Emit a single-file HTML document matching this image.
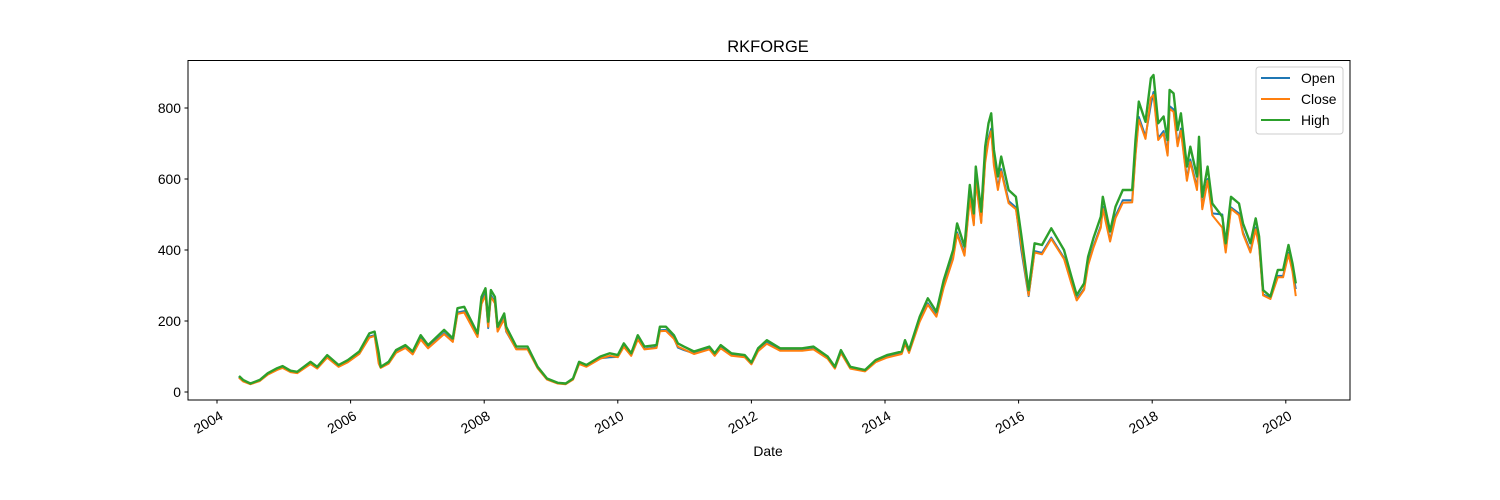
<!DOCTYPE html>
<html><head><meta charset="utf-8"><style>
html,body{margin:0;padding:0;background:#fff;}
svg{display:block;font-family:"Liberation Sans","DejaVu Sans",sans-serif;}
</style></head><body>
<svg id="chart" width="1500" height="500" viewBox="0 0 1500 500">
<rect x="0" y="0" width="1500" height="500" fill="#fff"/>
<text x="768" y="52" text-anchor="middle" font-size="16.5" fill="#000">RKFORGE</text>
<g id="series" clip-path="url(#clip)"></g>
<defs><clipPath id="clip"><rect x="188" y="60" width="1162" height="340"/></clipPath></defs>
<rect x="188" y="60.5" width="1162" height="339.5" fill="none" stroke="#000" stroke-width="1"/>
<g id="axes"></g>
<text x="768" y="456" text-anchor="middle" font-size="13.9" fill="#000">Date</text>
<g>
<rect x="1256" y="67" width="87" height="67" rx="3" fill="#fff" fill-opacity="0.8" stroke="#ccc"/>
<line x1="1261" x2="1290" y1="78" y2="78" stroke="#1f77b4" stroke-width="2"/>
<text x="1301" y="83" font-size="13.9">Open</text>
<line x1="1261" x2="1290" y1="99" y2="99" stroke="#ff7f0e" stroke-width="2"/>
<text x="1301" y="104" font-size="13.9">Close</text>
<line x1="1261" x2="1290" y1="120" y2="120" stroke="#2ca02c" stroke-width="2"/>
<text x="1301" y="125" font-size="13.9">High</text>
</g>
</svg>
<script>
const dates=[2004.33,2004.39,2004.5,2004.64,2004.76,2004.9,2004.98,2005.1,2005.2,2005.4,2005.5,2005.65,2005.82,2005.96,2006.13,2006.28,2006.36,2006.42,2006.45,2006.57,2006.68,2006.82,2006.93,2007.05,2007.16,2007.4,2007.53,2007.6,2007.7,2007.9,2007.96,2008.02,2008.06,2008.1,2008.16,2008.2,2008.3,2008.33,2008.48,2008.65,2008.8,2008.94,2009.1,2009.22,2009.33,2009.42,2009.53,2009.74,2009.88,2010.0,2010.09,2010.2,2010.3,2010.4,2010.58,2010.63,2010.72,2010.84,2010.9,2010.99,2011.14,2011.37,2011.45,2011.54,2011.7,2011.9,2012.0,2012.1,2012.23,2012.43,2012.6,2012.76,2012.93,2013.14,2013.25,2013.34,2013.48,2013.7,2013.86,2014.03,2014.25,2014.3,2014.36,2014.52,2014.64,2014.77,2014.88,2015.02,2015.08,2015.19,2015.27,2015.33,2015.36,2015.44,2015.5,2015.55,2015.59,2015.63,2015.69,2015.74,2015.85,2015.96,2016.04,2016.15,2016.24,2016.35,2016.49,2016.68,2016.79,2016.87,2016.98,2017.04,2017.12,2017.23,2017.26,2017.37,2017.45,2017.56,2017.7,2017.75,2017.8,2017.9,2017.98,2018.02,2018.09,2018.17,2018.23,2018.26,2018.32,2018.38,2018.43,2018.52,2018.57,2018.67,2018.7,2018.75,2018.83,2018.9,2019.05,2019.1,2019.18,2019.3,2019.36,2019.47,2019.55,2019.6,2019.66,2019.77,2019.88,2019.96,2020.04,2020.1,2020.15];
const high=[45,34,24,34,53,67,73,60,57,85,71,104,76,90,114,165,170,110,71,85,118,132,114,160,132,175,151,236,240,165,268,292,198,287,268,184,221,184,128,128,71,38,26,24,38,85,76,100,109,104,137,109,160,128,132,184,184,160,137,128,114,128,109,132,109,104,83,123,146,123,123,123,128,100,71,118,71,62,90,104,114,146,118,212,264,226,316,400,475,410,583,503,635,508,691,757,785,682,607,663,569,550,442,287,419,414,461,400,325,273,306,381,433,494,550,452,522,569,569,710,818,761,884,893,757,776,710,851,841,738,785,635,691,607,719,550,635,531,494,419,550,531,475,419,489,438,287,269,344,344,414,362,306];
const close=[40,30,22,31,49,62,68,56,53,79,66,97,71,84,107,153,158,80,68,80,110,124,106,148,123,163,141,220,224,155,248,272,184,268,250,170,205,172,120,120,67,35,24,22,35,79,71,94,102,98,127,102,148,120,124,171,172,150,128,120,107,120,102,123,102,98,78,115,136,116,116,116,120,94,66,110,66,58,84,97,107,136,110,198,246,212,295,375,445,384,545,470,594,476,647,708,735,638,569,621,532,515,414,272,393,388,431,375,305,258,288,357,406,463,516,424,490,533,534,666,767,713,829,837,710,728,666,798,789,692,736,595,648,569,674,515,595,498,463,393,516,498,445,393,458,411,272,262,323,323,388,339,270];
const open=[42,31,23,32,50,63,69,57,54,80,67,99,72,85,108,156,160,90,69,81,112,126,108,151,125,166,143,224,228,157,254,278,180,273,255,173,208,170,121,121,68,36,25,23,36,80,72,95,98,99,130,103,151,121,126,174,175,152,125,118,109,122,104,125,104,99,79,117,139,118,118,118,122,96,67,112,67,59,86,99,109,139,112,202,250,215,300,380,450,390,550,475,600,480,655,715,742,645,575,628,538,520,400,270,397,392,435,378,308,262,291,362,410,468,522,428,496,540,540,672,775,720,810,845,715,735,672,805,796,698,742,600,655,575,680,520,600,503,500,400,520,503,450,397,463,415,275,265,327,327,392,344,290];
const yTicks=[0,200,400,600,800];
const xTicks=[2004,2006,2008,2010,2012,2014,2016,2018,2020];
const NS='http://www.w3.org/2000/svg';
function xScale(t){return 217+(t-2004)*66.8;}
function yScale(v){return 392-v*0.355;}
const axes=document.getElementById('axes');
yTicks.forEach(v=>{
  const y=yScale(v);
  const l=document.createElementNS(NS,'line');
  l.setAttribute('x1',184.5);l.setAttribute('x2',188);l.setAttribute('y1',y);l.setAttribute('y2',y);l.setAttribute('stroke','#000');
  
  
  axes.appendChild(l);
  const t=document.createElementNS(NS,'text');
  t.setAttribute('x',181);t.setAttribute('y',y+5);t.setAttribute('text-anchor','end');t.setAttribute('font-size','13.9');
  t.textContent=v;
  
  
  axes.appendChild(t);
});
xTicks.forEach(v=>{
  const x=xScale(v);
  const l=document.createElementNS(NS,'line');
  l.setAttribute('x1',x);l.setAttribute('x2',x);l.setAttribute('y1',400);l.setAttribute('y2',403.5);l.setAttribute('stroke','#000');
  
  
  axes.appendChild(l);
  const t=document.createElementNS(NS,'text');
  t.setAttribute('text-anchor','end');t.setAttribute('font-size','13.9');
  t.setAttribute('transform','translate('+(x+2)+',410) rotate(-30)');
  t.setAttribute('x',0);t.setAttribute('y',10);
  t.textContent=v;
  
  
  axes.appendChild(t);
});
const series=document.getElementById('series');
[[open,'#1f77b4','open-line',2],[close,'#ff7f0e','close-line',2],[high,'#2ca02c','high-line',2.4]].forEach(s=>{
  const p=document.createElementNS(NS,'polyline');
  p.setAttribute('points',s[0].map((v,i)=>xScale(dates[i]).toFixed(1)+','+yScale(v).toFixed(1)).join(' '));
  p.setAttribute('fill','none');p.setAttribute('stroke',s[1]);p.setAttribute('stroke-width',s[3]);p.setAttribute('stroke-linejoin','round');
  
  
  series.appendChild(p);
});
</script>
</body></html>
